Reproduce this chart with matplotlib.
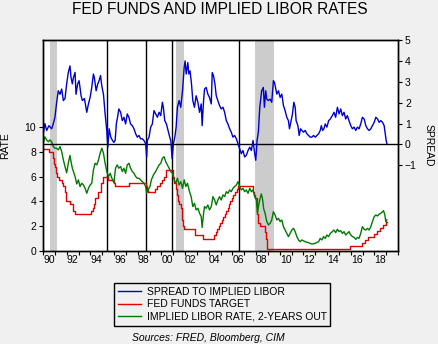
import matplotlib
matplotlib.use("Agg")
import matplotlib.pyplot as plt
from matplotlib.ticker import FixedLocator, NullFormatter, FixedFormatter

plt.rcParams['font.family'] = ['Liberation Sans', 'DejaVu Sans']

# fed funds target: change dates (decimal years) and new level
ff_dates = [1990.00, 1990.54, 1990.83, 1990.87, 1990.93, 1990.96, 1991.02, 1991.09, 1991.19,
            1991.33, 1991.60, 1991.71, 1991.83, 1991.87, 1991.93, 1991.97, 1992.27, 1992.50,
            1992.68, 1994.09, 1994.23, 1994.30, 1994.38, 1994.62, 1994.87, 1995.09, 1995.52,
            1995.97, 1996.08, 1997.23, 1998.74, 1998.79, 1998.88, 1999.49, 1999.65, 1999.88,
            2000.09, 2000.22, 2000.38, 2001.01, 2001.08, 2001.22, 2001.30, 2001.38, 2001.49,
            2001.64, 2001.71, 2001.76, 2001.84, 2001.95, 2002.85, 2003.49, 2004.49, 2004.61,
            2004.72, 2004.86, 2004.96, 2005.09, 2005.22, 2005.34, 2005.49, 2005.61, 2005.72,
            2005.84, 2005.96, 2006.08, 2006.24, 2006.36, 2006.49, 2007.72, 2007.83, 2007.95,
            2008.06, 2008.08, 2008.21, 2008.33, 2008.77, 2008.83, 2008.96, 2015.96, 2016.96,
            2017.21, 2017.46, 2017.96, 2018.21, 2018.46, 2018.74, 2018.96, 2019.06]
ff_target = [8.25, 8.0, 7.75, 7.5, 7.25, 7.0, 6.75, 6.25, 6.0,
             5.75, 5.5, 5.25, 5.0, 4.75, 4.5, 4.0, 3.75, 3.25,
             3.0, 3.25, 3.5, 3.75, 4.25, 4.75, 5.5, 6.0, 5.75,
             5.5, 5.25, 5.5, 5.25, 5.0, 4.75, 5.0, 5.25, 5.5,
             5.75, 6.0, 6.5, 6.0, 5.5, 5.0, 4.5, 4.0, 3.75,
             3.5, 3.0, 2.5, 2.0, 1.75, 1.25, 1.0, 1.25, 1.5,
             1.75, 2.0, 2.25, 2.5, 2.75, 3.0, 3.25, 3.5, 3.75,
             4.0, 4.25, 4.5, 4.75, 5.0, 5.25, 4.75, 4.5, 4.25,
             3.5, 3.0, 2.25, 2.0, 1.5, 1.0, 0.125, 0.375, 0.625,
             0.875, 1.125, 1.375, 1.625, 1.875, 2.125, 2.375, 2.375]

# implied LIBOR, 2 years forward
libor_dates = [1990.00, 1990.16, 1990.31, 1990.45, 1990.59, 1990.73, 1990.87, 1991.01, 1991.15,
               1991.29, 1991.44, 1991.58, 1991.72, 1991.86, 1992.00, 1992.14, 1992.28, 1992.37,
               1992.48, 1992.57, 1992.71, 1992.85, 1992.99, 1993.13, 1993.27, 1993.42, 1993.56,
               1993.70, 1993.84, 1993.98, 1994.12, 1994.26, 1994.40, 1994.55, 1994.69, 1994.83,
               1994.97, 1995.11, 1995.25, 1995.39, 1995.54, 1995.68, 1995.82, 1995.99, 1996.13,
               1996.27, 1996.41, 1996.56, 1996.70, 1996.84, 1996.98, 1997.12, 1997.26, 1997.40,
               1997.55, 1997.69, 1997.83, 1997.97, 1998.11, 1998.25, 1998.39, 1998.53, 1998.68,
               1998.76, 1998.87, 1999.04, 1999.16, 1999.33, 1999.52, 1999.67, 1999.81, 1999.95,
               2000.09, 2000.23, 2000.37, 2000.51, 2000.66, 2000.80, 2000.94, 2001.08, 2001.22,
               2001.36, 2001.50, 2001.64, 2001.79, 2001.93, 2002.07, 2002.21, 2002.38, 2002.52,
               2002.66, 2002.80, 2002.94, 2003.09, 2003.23, 2003.37, 2003.45, 2003.57, 2003.65,
               2003.79, 2003.93, 2004.07, 2004.22, 2004.36, 2004.50, 2004.64, 2004.78, 2004.92,
               2005.06, 2005.21, 2005.35, 2005.49, 2005.63, 2005.77, 2005.91, 2006.05, 2006.19,
               2006.34, 2006.48, 2006.62, 2006.76, 2006.90, 2007.04, 2007.18, 2007.33, 2007.47,
               2007.61, 2007.75, 2007.89, 2008.03, 2008.12, 2008.23, 2008.34, 2008.45, 2008.55,
               2008.65, 2008.77, 2008.91, 2009.05, 2009.19, 2009.33, 2009.47, 2009.61, 2009.76,
               2009.90, 2010.04, 2010.18, 2010.32, 2010.46, 2010.60, 2010.74, 2010.88, 2011.03,
               2011.17, 2011.31, 2011.45, 2011.59, 2011.73, 2011.88, 2012.16, 2012.44, 2012.72,
               2013.01, 2013.29, 2013.43, 2013.57, 2013.71, 2013.85, 2013.99, 2014.14, 2014.28,
               2014.45, 2014.59, 2014.73, 2014.88, 2015.02, 2015.16, 2015.30, 2015.44, 2015.58,
               2015.72, 2015.86, 2016.01, 2016.15, 2016.29, 2016.43, 2016.57, 2016.71, 2016.85,
               2016.99, 2017.14, 2017.28, 2017.42, 2017.56, 2017.70, 2017.84, 2017.99, 2018.13,
               2018.27, 2018.41, 2018.55, 2018.69, 2018.78, 2018.89, 2018.97, 2019.06]
libor_2y = [8.6, 9.2, 8.95, 8.8, 8.95, 8.8, 8.41, 8.28, 8.28,
            8.15, 8.41, 8.0, 7.34, 6.8, 6.3, 7.07, 7.7, 7.2,
            6.67, 6.4, 6.0, 5.4, 5.73, 5.19, 5.46, 5.32, 5.05,
            4.65, 5.05, 5.32, 5.46, 6.53, 7.07, 6.94, 7.34, 7.88,
            8.28, 7.88, 7.07, 6.4, 6.0, 6.26, 5.86, 5.5, 6.67,
            6.94, 6.67, 6.8, 6.4, 6.67, 6.26, 6.94, 7.07, 6.67,
            6.4, 6.26, 6.0, 5.86, 5.86, 5.73, 5.59, 5.46, 5.19,
            4.65, 4.92, 5.19, 5.73, 6.13, 6.4, 6.67, 6.94, 7.07,
            7.47, 7.6, 7.2, 6.94, 6.67, 6.4, 6.26, 5.73, 5.46,
            5.86, 5.32, 5.59, 5.05, 5.73, 5.19, 5.46, 4.78, 4.38,
            3.58, 3.84, 3.31, 3.44, 3.04, 2.77, 1.9, 3.04, 3.58,
            3.44, 3.71, 3.31, 3.58, 4.38, 4.11, 3.71, 4.11, 4.38,
            4.11, 4.52, 4.38, 4.78, 4.65, 4.92, 4.78, 5.05, 5.19,
            5.32, 5.59, 5.19, 4.92, 5.05, 4.78, 4.92, 4.65, 5.05,
            4.78, 4.92, 4.38, 4.11, 3.04, 3.71, 4.2, 4.6, 4.2,
            3.4, 3.04, 2.37, 2.1, 2.23, 2.5, 3.17, 2.9, 2.5,
            2.63, 2.37, 2.5, 1.96, 1.69, 1.42, 1.16, 1.42, 1.69,
            1.83, 1.56, 1.16, 0.89, 0.75, 0.89, 0.75, 0.67, 0.56,
            0.62, 0.75, 1.02, 0.89, 1.16, 1.02, 1.29, 1.16, 1.42,
            1.56, 1.69, 1.48, 1.75, 1.56, 1.64, 1.42, 1.56, 1.29,
            1.42, 1.56, 1.29, 1.16, 1.1, 0.94, 1.1, 1.02, 1.42,
            1.96, 1.75, 1.69, 1.83, 1.69, 1.96, 2.37, 2.77, 2.9,
            2.82, 2.98, 3.04, 3.17, 3.25, 2.9, 2.37, 2.5]

# spread of implied LIBOR over the funds target (right scale)
spread_dates = [1990.00, 1990.16, 1990.31, 1990.50, 1990.73, 1990.87, 1991.01, 1991.15, 1991.29,
                1991.44, 1991.58, 1991.72, 1991.86, 1992.00, 1992.14, 1992.28, 1992.37, 1992.48,
                1992.57, 1992.71, 1992.79, 1992.93, 1993.05, 1993.22, 1993.33, 1993.50, 1993.70,
                1993.84, 1993.98, 1994.12, 1994.26, 1994.34, 1994.49, 1994.63, 1994.74, 1994.86,
                1994.97, 1995.11, 1995.25, 1995.39, 1995.48, 1995.59, 1995.73, 1995.87, 1995.99,
                1996.10, 1996.20, 1996.30, 1996.41, 1996.56, 1996.70, 1996.84, 1996.98, 1997.12,
                1997.26, 1997.40, 1997.55, 1997.69, 1997.83, 1997.97, 1998.11, 1998.25, 1998.39,
                1998.53, 1998.68, 1998.76, 1998.82, 1998.96, 1999.10, 1999.24, 1999.38, 1999.52,
                1999.67, 1999.81, 1999.95, 2000.09, 2000.17, 2000.29, 2000.43, 2000.57, 2000.71,
                2000.80, 2000.91, 2001.02, 2001.14, 2001.25, 2001.36, 2001.50, 2001.64, 2001.79,
                2001.93, 2002.01, 2002.10, 2002.24, 2002.32, 2002.43, 2002.55, 2002.66, 2002.80,
                2002.94, 2003.09, 2003.23, 2003.37, 2003.45, 2003.57, 2003.65, 2003.79, 2003.93,
                2004.07, 2004.22, 2004.30, 2004.41, 2004.53, 2004.64, 2004.78, 2004.92, 2005.06,
                2005.21, 2005.35, 2005.49, 2005.63, 2005.77, 2005.91, 2006.05, 2006.19, 2006.34,
                2006.48, 2006.62, 2006.76, 2006.90, 2007.04, 2007.18, 2007.33, 2007.47, 2007.61,
                2007.75, 2007.89, 2007.98, 2008.09, 2008.20, 2008.32, 2008.48, 2008.62, 2008.71,
                2008.82, 2008.91, 2009.05, 2009.19, 2009.33, 2009.47, 2009.56, 2009.67, 2009.76,
                2009.90, 2010.04, 2010.18, 2010.32, 2010.46, 2010.60, 2010.74, 2010.83, 2010.97,
                2011.08, 2011.20, 2011.31, 2011.39, 2011.54, 2011.65, 2011.76, 2011.88, 2012.02,
                2012.16, 2012.30, 2012.44, 2012.58, 2012.72, 2012.86, 2013.01, 2013.15, 2013.29,
                2013.43, 2013.52, 2013.63, 2013.74, 2013.85, 2013.99, 2014.14, 2014.28, 2014.45,
                2014.59, 2014.73, 2014.88, 2015.02, 2015.16, 2015.30, 2015.44, 2015.58, 2015.72,
                2015.86, 2016.01, 2016.15, 2016.29, 2016.43, 2016.57, 2016.71, 2016.85, 2016.99,
                2017.14, 2017.28, 2017.42, 2017.56, 2017.70, 2017.84, 2017.99, 2018.13, 2018.27,
                2018.41, 2018.55, 2018.69, 2018.83, 2018.92, 2019.00, 2019.06]
spread = [0.43, 1.0, 0.67, 0.9, 0.75, 1.0, 1.3, 2.0, 2.57,
          2.4, 2.65, 2.1, 2.2, 2.9, 3.45, 3.76, 3.2, 2.9,
          3.2, 3.45, 2.4, 2.9, 3.05, 2.33, 2.1, 2.2, 1.54,
          1.94, 2.25, 2.73, 3.37, 3.2, 2.57, 2.9, 3.05, 3.3,
          2.8, 2.4, 1.46, 0.67, -0.13, 0.75, 0.35, 0.19, 0.1,
          0.2, 1.0, 1.3, 1.7, 1.54, 1.14, 1.3, 0.98, 1.46,
          1.3, 0.98, 0.9, 0.75, 0.51, 0.35, 0.43, 0.27, 0.27,
          0.19, 0.03, -0.6, 0.19, 0.35, 0.83, 0.98, 1.62, 1.46,
          1.3, 1.54, 1.38, 2.02, 1.78, 1.14, 0.98, 0.67, 0.35,
          0.19, -0.68, 0.03, 0.35, 0.83, 1.78, 2.1, 1.78, 2.57,
          3.68, 4.0, 3.37, 3.92, 3.37, 3.52, 2.89, 2.1, 1.78,
          2.33, 2.02, 1.54, 1.94, 0.9, 2.1, 2.65, 2.73, 2.41,
          2.25, 1.94, 3.44, 3.29, 2.89, 2.33, 2.1, 1.86, 1.7,
          1.78, 1.54, 1.14, 0.98, 0.75, 0.59, 0.35, 0.43, 0.27,
          0.03, -0.21, -0.44, -0.29, -0.6, -0.52, -0.29, -0.13, -0.29,
          0.19, -0.44, -0.76, 0.19, 0.6, 1.78, 2.57, 2.73, 1.78,
          2.57, 2.17, 2.1, 2.17, 2.02, 3.05, 2.97, 2.65, 2.41,
          2.57, 2.25, 2.41, 1.86, 1.62, 1.3, 1.14, 0.75, 1.14,
          1.46, 2.02, 1.78, 1.14, 0.9, 0.43, 0.75, 0.67, 0.59,
          0.67, 0.51, 0.43, 0.35, 0.35, 0.43, 0.35, 0.43, 0.51,
          0.67, 0.9, 0.67, 0.75, 0.98, 0.83, 1.14, 1.22, 1.38,
          1.54, 1.3, 1.78, 1.46, 1.7, 1.38, 1.54, 1.22, 1.38,
          1.14, 0.9, 0.75, 0.83, 0.67, 0.83, 0.75, 0.98, 1.3,
          1.22, 0.9, 0.75, 0.67, 0.75, 0.9, 1.06, 1.3, 1.22,
          1.06, 1.14, 1.06, 0.9, 0.51, 0.19, 0.05]

# recessions and end-of-cycle markers
recessions = [(1990.62, 1991.21), (2001.25, 2001.92), (2007.95, 2009.50)]
cycle_turns = [1995.45, 1998.73, 2000.88, 2006.55]

year_labels = ['90', '92', '94', '96', '98', '00', '02', '04', '06', '08', '10', '12', '14', '16', '18']

bg = '#f0f0f0'
fig = plt.figure(figsize=(4.39, 3.44), dpi=100, facecolor=bg)
ax = fig.add_axes([43 / 439, 1 - 251 / 344, 355 / 439, 211 / 344])
ax2 = ax.twinx()

for start, end in recessions:
    ax.axvspan(start, end, color='#cccccc', lw=0, zorder=0)
for t in cycle_turns:
    ax.axvline(t, color='black', lw=1.0, zorder=1)

ax.step(ff_dates, ff_target, where='post', color='#e00000', lw=1.0, label='FED FUNDS TARGET')
ax.plot(libor_dates, libor_2y, color='#007a00', lw=1.0, label='IMPLIED LIBOR RATE, 2-YEARS OUT')
ax2.axhline(0, color='black', lw=1.0)
ax2.plot(spread_dates, spread, color='#0000cc', lw=1.0, label='SPREAD TO IMPLIED LIBOR')

ax.set_xlim(1990, 2020)
ax.set_ylim(0, 17)
ax2.set_ylim(-5.1, 5)
ax.set_yticks(range(0, 11, 2))
ax2.set_yticks(range(-1, 6))

# year boundaries get the tick marks, labels sit in the middle of the year
ax.xaxis.set_major_locator(FixedLocator(range(1990, 2021)))
ax.xaxis.set_major_formatter(NullFormatter())
ax.xaxis.set_minor_locator(FixedLocator([y + 0.5 for y in range(1990, 2019, 2)]))
ax.xaxis.set_minor_formatter(FixedFormatter(year_labels))
ax.tick_params(axis='x', which='major', length=3, width=0.8)
ax.tick_params(axis='x', which='minor', length=0, labelsize=7.5, pad=3)
ax.tick_params(axis='y', length=3, width=0.8, labelsize=7.5, pad=2)
ax2.tick_params(axis='y', length=3, width=0.8, labelsize=7.5, pad=2)

for a in (ax, ax2):
    for s in a.spines.values():
        s.set_linewidth(1.0)
        s.set_color('black')

ax.set_ylabel('RATE', fontsize=7.5, labelpad=10)
ax2.set_ylabel('SPREAD', fontsize=7.5, rotation=-90, labelpad=12)

fig.text(0.5, 1 - 9.5 / 344, 'FED FUNDS AND IMPLIED LIBOR RATES', ha='center', va='center', fontsize=11.2)

h1, l1 = ax.get_legend_handles_labels()
h2, l2 = ax2.get_legend_handles_labels()
leg = fig.legend(h2 + h1, l2 + l1, loc='upper left', bbox_to_anchor=(114 / 439, 1 - 283 / 344),
                 fontsize=7.5, frameon=True, fancybox=False, edgecolor='black', facecolor=bg,
                 framealpha=1, handlelength=2.2, handletextpad=0.6, labelspacing=0.25,
                 borderpad=0.35, borderaxespad=0)
leg.get_frame().set_linewidth(1.0)

fig.text(208 / 439, 1 - 338 / 344, 'Sources: FRED, Bloomberg, CIM', ha='center', va='center',
         fontsize=7.5, style='italic')

fig.savefig('out.png', dpi=100, facecolor=bg)
